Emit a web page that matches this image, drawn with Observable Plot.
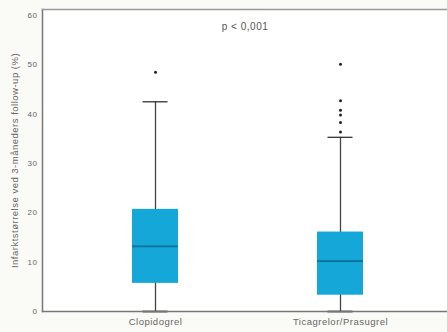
<!DOCTYPE html>
<html>
<head>
<meta charset="utf-8">
<script src="https://cdn.jsdelivr.net/npm/d3@7"></script>
<script src="https://cdn.jsdelivr.net/npm/@observablehq/plot@0.6"></script>
<style>
  html, body { margin: 0; padding: 0; background: #fafaf6; }
  #chart svg { display: block; }
  #chart svg text { letter-spacing: 0.5px; }
</style>
</head>
<body>
<div id="chart"></div>
<script>
const categories = ["Clopidogrel", "Ticagrelor/Prasugrel"];
const q1 = [5.7, 3.3];
const median = [13.2, 10.2];
const q3 = [20.7, 16.1];
const whiskerLow = [0, 0];
const whiskerHigh = [42.5, 35.3];
const outlierGroup = ["Clopidogrel", "Ticagrelor/Prasugrel", "Ticagrelor/Prasugrel", "Ticagrelor/Prasugrel", "Ticagrelor/Prasugrel", "Ticagrelor/Prasugrel", "Ticagrelor/Prasugrel"];
const outlierValue = [48.5, 50.1, 42.7, 40.8, 39.8, 38.3, 36.4];
const yTicks = [0, 10, 20, 30, 40, 50, 60];
const pText = "p < 0,001";
const yLabel = "Infarktstørrelse ved 3-måneders follow-up (%)";

const boxes = categories.map((c, i) => ({
  cat: c, q1: q1[i], med: median[i], q3: q3[i], lo: whiskerLow[i], hi: whiskerHigh[i]
}));
const outliers = outlierGroup.map((c, i) => ({cat: c, v: outlierValue[i]}));

const font = "'Liberation Sans', Arial, sans-serif";

const chart = Plot.plot({
  width: 447,
  height: 332,
  marginLeft: 42,
  marginRight: 0,
  marginTop: 9,
  marginBottom: 21,
  style: {fontFamily: font, fontSize: "9.5px", color: "#666", background: "#fafaf6"},
  x: {type: "band", domain: categories, range: [62.5, 432.5], paddingInner: 0.75, paddingOuter: 0.375},
  y: {domain: [0, 61.2]},
  marks: [
    Plot.frame({fill: "white", stroke: "none"}),
    Plot.ruleX(boxes, {x: "cat", y1: "lo", y2: "hi", stroke: "#444", strokeWidth: 1.3}),
    Plot.tickY(boxes, {x: "cat", y: "hi", stroke: "#333", strokeWidth: 1.3, inset: 10.5}),
    Plot.tickY(boxes, {x: "cat", y: "lo", stroke: "#333", strokeWidth: 1.8, inset: 10.5}),
    Plot.rectY(boxes, {x: "cat", y1: "q1", y2: "q3", fill: "#14a7d8"}),
    Plot.tickY(boxes, {x: "cat", y: "med", stroke: "#0b6f98", strokeWidth: 1.8}),
    Plot.dot(outliers, {x: "cat", y: "v", r: 1.5, fill: "#222", stroke: "none"}),
    Plot.text([pText], {frameAnchor: "top", dy: 13, lineAnchor: "top", text: d => d, fontSize: 10, fill: "#555"}),
    Plot.axisY({ticks: yTicks, tickSize: 0, tickPadding: 5, fontSize: 8, label: null, fill: "#666"}),
    Plot.axisY({ticks: [], tickSize: 0, fontSize: 9.5, label: yLabel, labelAnchor: "center", labelArrow: "none", labelOffset: 31, fill: "#666"}),
    Plot.axisX({tickSize: 0, tickPadding: 7, label: null, fill: "#666"}),
    Plot.frame({anchor: "left", stroke: "#777", strokeWidth: 1.5}),
    Plot.frame({anchor: "bottom", stroke: "#777", strokeWidth: 1.5}),
    Plot.frame({anchor: "top", stroke: "#999", strokeWidth: 1.5})
  ]
});
document.getElementById("chart").appendChild(chart);
</script>
</body>
</html>
